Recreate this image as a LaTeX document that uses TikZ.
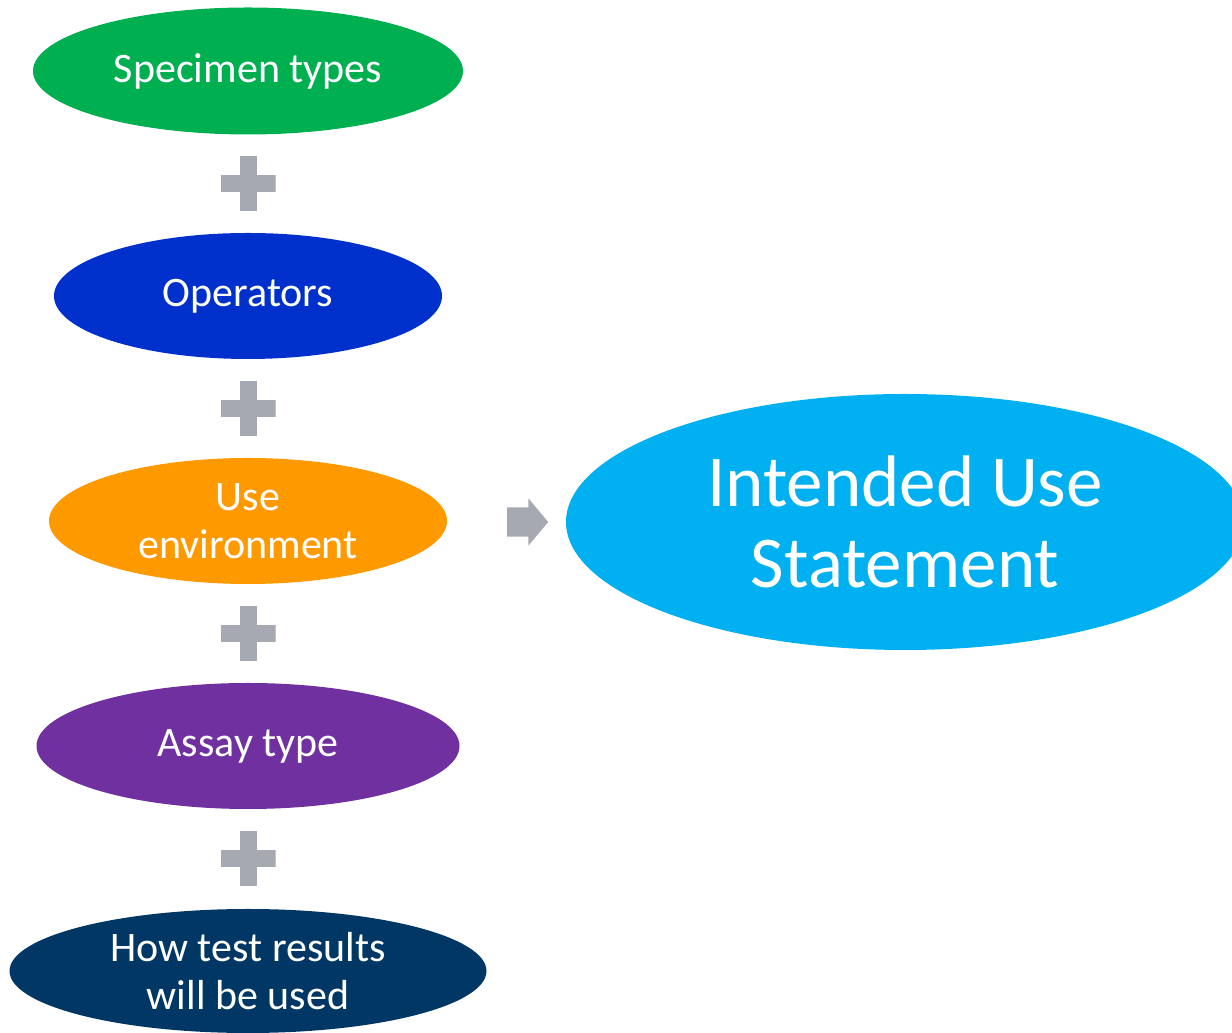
\documentclass[tikz,border=0pt]{standalone}
\usepackage{fontspec}
\setmainfont{Carlito}
\usepackage{xcolor}
\usetikzlibrary{shapes.geometric, shapes.arrows, positioning, calc}
\definecolor{specgreen}{HTML}{00B050}
\definecolor{operblue}{HTML}{0030CC}
\definecolor{envorange}{HTML}{FF9900}
\definecolor{assaypurple}{HTML}{7030A0}
\definecolor{hownavy}{HTML}{003764}
\definecolor{intendblue}{HTML}{00B0F0}
\definecolor{plusgray}{HTML}{A6A9B2}
\tikzset{
x=1pt, y=1pt, % one unit is one pixel of the layout
node distance=225pt, % centre to centre distance of the stacked ellipses
blob/.style={ellipse, inner sep=-20pt, align=center, text=white, font=\fontsize{42}{48}\selectfont}, % the coloured ellipses
plus/.style={minimum size=55pt, inner sep=0pt, path picture={
    \fill[plusgray] ([xshift=-8.5pt]path picture bounding box.south) rectangle ([xshift=8.5pt]path picture bounding box.north);
    \fill[plusgray] ([yshift=-8.5pt]path picture bounding box.west) rectangle ([yshift=8.5pt]path picture bounding box.east);
}}, % the grey plus signs
}

\begin{document}
\begin{tikzpicture}
        \useasboundingbox (0,0) rectangle (1232,1033);
        \node[blob, fill=specgreen, minimum width=430pt, minimum height=127pt] (spec) at (248,962) {Specimen types};
        \node[blob, fill=operblue, minimum width=388pt, minimum height=126pt, below of=spec] (oper) {Operators};
        \node[blob, fill=envorange, minimum width=398pt, minimum height=126pt, below of=oper] (env) {Use\\environment};
        \node[blob, fill=assaypurple, minimum width=423pt, minimum height=126pt, below of=env] (assay) {Assay type};
        \node[blob, fill=hownavy, minimum width=477pt, minimum height=124pt, below of=assay] (how) {How test results\\will be used};

        \node[plus] (p1) at ($(spec)!.5!(oper)$) {};
        \node[plus] (p2) at ($(oper)!.5!(env)$) {};
        \node[plus] (p3) at ($(env)!.5!(assay)$) {};
        \node[plus] (p4) at ($(assay)!.5!(how)$) {};

        \node[single arrow, fill=plusgray, inner xsep=0pt, inner ysep=14.5pt, minimum height=41pt,
              single arrow head extend=9pt, single arrow tip angle=100, anchor=tail] (arr) at (507,511) {};
        \node[blob, fill=intendblue, minimum width=678pt, minimum height=256pt,
              font=\fontsize{73}{81}\selectfont] (intend) at (905,511) {Intended Use\\Statement};
\end{tikzpicture}
\end{document}
